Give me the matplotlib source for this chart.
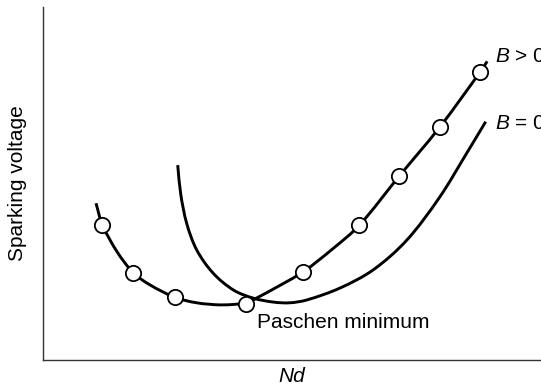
import matplotlib
matplotlib.use("Agg")
import numpy as np
import matplotlib.pyplot as plt
from matplotlib.path import Path
from matplotlib.patches import PathPatch

plt.rcParams['font.family'] = ['Liberation Sans', 'DejaVu Sans']
plt.rcParams['mathtext.fontset'] = 'custom'
plt.rcParams['mathtext.rm'] = 'Liberation Sans'
plt.rcParams['mathtext.it'] = 'Liberation Sans:italic'

# B > 0 curve (arbitrary units, Nd vs sparking voltage)
b_pos_x = [10.7, 12.0, 15.0, 18.2, 21.5, 26.6, 30.9, 35.6, 38.9, 40.9,
           43.0, 46.3, 52.3, 58.3, 63.5, 71.5, 79.7, 87.8, 89.2]
b_pos_y = [44.4, 38.2, 30.5, 24.7, 21.3, 17.7, 16.2, 15.6, 15.8, 16.0,
           17.6, 20.1, 25.0, 31.6, 38.1, 52.0, 66.0, 81.6, 84.6]

# measured points on the B > 0 curve
pts_x = [12.0, 18.2, 26.6, 40.9, 52.3, 63.5, 71.5, 79.7, 87.8]
pts_y = [38.2, 24.7, 17.7, 15.9, 25.0, 38.1, 52.0, 66.0, 81.6]

# B = 0 curve
b_zero_x = [27.1, 27.7, 28.9, 30.9, 34.2, 38.3, 42.3, 46.3, 49.6, 53.0,
            59.7, 66.4, 73.1, 79.7, 85.1, 88.9]
b_zero_y = [55.2, 47.0, 38.7, 31.2, 24.6, 19.8, 17.5, 16.4, 16.2, 17.0,
            20.4, 25.6, 34.0, 46.2, 58.6, 67.5]

# pixels per data unit, used only to get the curve tangents right on screen
SX, SY = 4.983, 3.53


def smooth_path(xs, ys):
    # smooth curve through the read points, drawn as cubic bezier segments
    p = np.column_stack([np.array(xs) * SX, np.array(ys) * SY])
    n = len(p)
    d = np.hypot(*np.diff(p, axis=0).T)
    tang = np.zeros_like(p)
    tang[0] = (p[1] - p[0]) / d[0]
    tang[-1] = (p[-1] - p[-2]) / d[-1]
    for i in range(1, n - 1):
        tang[i] = (p[i + 1] - p[i - 1]) / (d[i - 1] + d[i])
    verts = [p[0]]
    codes = [Path.MOVETO]
    for i in range(n - 1):
        verts += [p[i] + tang[i] * d[i] / 3, p[i + 1] - tang[i + 1] * d[i] / 3, p[i + 1]]
        codes += [Path.CURVE4] * 3
    verts = np.array(verts) / [SX, SY]
    return Path(verts, codes)


fig = plt.figure(figsize=(5.41, 3.89), dpi=100)
ax = fig.add_axes([0.0789, 0.0746, 0.9211, 0.9075])

for xs, ys in [(b_pos_x, b_pos_y), (b_zero_x, b_zero_y)]:
    ax.add_patch(PathPatch(smooth_path(xs, ys), facecolor='none',
                           edgecolor='black', lw=2.1, capstyle='butt', zorder=2))
ax.plot(pts_x, pts_y, 'o', ms=11, mfc='white', mec='black', mew=1.3, zorder=3)

ax.text(43.0, 9.1, 'Paschen minimum', fontsize=15, va='baseline', ha='left')
ax.text(90.8, 84.3, r'$B$ > 0', fontsize=15, va='baseline', ha='left', clip_on=False)
ax.text(90.8, 65.4, r'$B$ = 0', fontsize=15, va='baseline', ha='left', clip_on=False)

ax.set_xlim(0, 100)
ax.set_ylim(0, 100)
ax.set_xticks([])
ax.set_yticks([])
for s in ['top', 'right']:
    ax.spines[s].set_visible(False)
for s in ['left', 'bottom']:
    ax.spines[s].set_color('#333333')
    ax.spines[s].set_linewidth(1.0)

ax.set_xlabel('Nd', fontsize=15, style='italic', va='top')
ax.xaxis.set_label_coords(0.5, -0.021)
ax.set_ylabel('Sparking voltage', fontsize=15)
ax.yaxis.set_label_coords(-0.0315, 0.5)

fig.savefig('out.png', dpi=100)
